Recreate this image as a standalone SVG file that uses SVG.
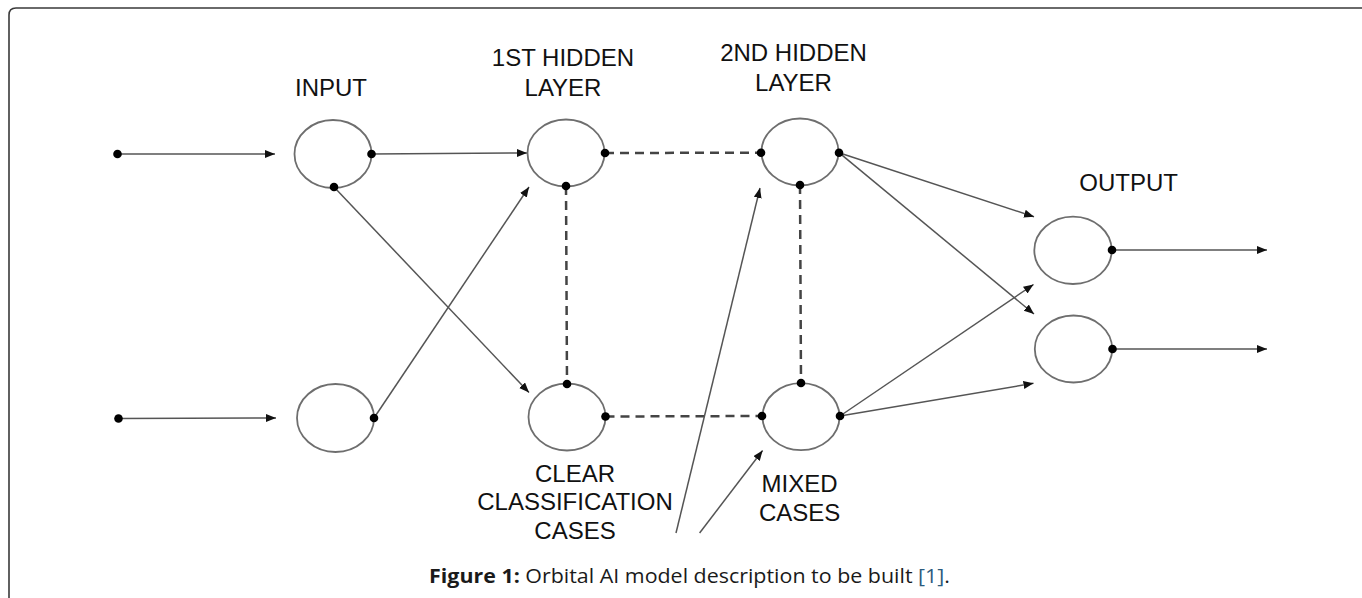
<svg xmlns="http://www.w3.org/2000/svg" width="1362" height="598" viewBox="0 0 1362 598">
<style>
.node ellipse{fill:none;stroke:#6e6e6e;stroke-width:1.8}
.dot{fill:#000}
.lbl{font-family:"Liberation Sans",Arial,sans-serif;font-size:24px;fill:#111;text-anchor:middle}
.solid{stroke:#555;stroke-width:1.5;fill:none}
.dash{stroke:#444;stroke-width:2.5;stroke-dasharray:9 6;fill:none}
.cap{font-family:"Open Sans","Liberation Sans",sans-serif;font-size:20px;fill:#1a1a1a}
</style>
<defs>
<marker id="ah" markerUnits="userSpaceOnUse" markerWidth="11" markerHeight="9" refX="10" refY="4" orient="auto">
<path d="M0,0 L10,4 L0,8 z" fill="#111"/>
</marker>
</defs>
<rect width="1362" height="598" fill="#fff"/>
<path d="M9,598 L9,15 Q9,8 16,8 L1362,8" fill="none" stroke="#3a3a3a" stroke-width="1.6"/>

<g id="connectors">
<line class="solid" x1="117.5" y1="154" x2="275" y2="154" marker-end="url(#ah)"/>
<line class="solid" x1="118.5" y1="418.5" x2="276" y2="418" marker-end="url(#ah)"/>
<line class="solid" x1="371.5" y1="154" x2="527" y2="153" marker-end="url(#ah)"/>
<line class="solid" x1="334" y1="187" x2="529" y2="392.5" marker-end="url(#ah)"/>
<line class="solid" x1="374" y1="418" x2="529" y2="187" marker-end="url(#ah)"/>
<line class="dash" x1="605" y1="153" x2="761" y2="152.7"/>
<line class="dash" x1="566" y1="186" x2="567" y2="384"/>
<line class="dash" x1="605.5" y1="416.5" x2="762" y2="416"/>
<line class="dash" x1="800" y1="185" x2="801" y2="383"/>
<line class="solid" x1="839" y1="152.7" x2="1034" y2="216.7" marker-end="url(#ah)"/>
<line class="solid" x1="839" y1="152.7" x2="1034" y2="314" marker-end="url(#ah)"/>
<line class="solid" x1="840" y1="416" x2="1033.5" y2="284.5" marker-end="url(#ah)"/>
<line class="solid" x1="840" y1="416" x2="1033.5" y2="383.3" marker-end="url(#ah)"/>
<line class="solid" x1="1112" y1="250" x2="1267" y2="250" marker-end="url(#ah)"/>
<line class="solid" x1="1112.5" y1="349" x2="1267" y2="349" marker-end="url(#ah)"/>
<line class="solid" x1="676" y1="533" x2="760" y2="188" marker-end="url(#ah)"/>
<line class="solid" x1="699.6" y1="533" x2="762.6" y2="450.5" marker-end="url(#ah)"/>
</g>

<g id="node-in1" class="node">
<ellipse cx="333" cy="154" rx="38.5" ry="34"/>
<circle class="dot" cx="371.5" cy="154" r="4.3"/>
<circle class="dot" cx="334" cy="187" r="4.3"/>
</g>
<g id="node-in2" class="node">
<ellipse cx="335.5" cy="418" rx="38.5" ry="34"/>
<circle class="dot" cx="374" cy="418" r="4.3"/>
</g>
<g id="node-h1a" class="node">
<ellipse cx="566" cy="153" rx="38.5" ry="33.5"/>
<circle class="dot" cx="605" cy="153" r="4.3"/>
<circle class="dot" cx="566" cy="186" r="4.3"/>
</g>
<g id="node-h1b" class="node">
<ellipse cx="567" cy="417" rx="38.5" ry="33.5"/>
<circle class="dot" cx="567" cy="384" r="4.3"/>
<circle class="dot" cx="605.5" cy="416.5" r="4.3"/>
</g>
<g id="node-h2a" class="node">
<ellipse cx="800" cy="152" rx="38.5" ry="33.5"/>
<circle class="dot" cx="761" cy="152.7" r="4.3"/>
<circle class="dot" cx="839" cy="152.7" r="4.3"/>
<circle class="dot" cx="800" cy="185" r="4.3"/>
</g>
<g id="node-h2b" class="node">
<ellipse cx="801" cy="416.7" rx="38.5" ry="33.5"/>
<circle class="dot" cx="801" cy="383" r="4.3"/>
<circle class="dot" cx="762" cy="416" r="4.3"/>
<circle class="dot" cx="840" cy="416" r="4.3"/>
</g>
<g id="node-out1" class="node">
<ellipse cx="1073" cy="250.3" rx="38.7" ry="33.7"/>
<circle class="dot" cx="1112" cy="250" r="4.3"/>
</g>
<g id="node-out2" class="node">
<ellipse cx="1073.5" cy="349" rx="38.7" ry="33.5"/>
<circle class="dot" cx="1112.5" cy="349" r="4.3"/>
</g>
<g id="start-dots">
<circle class="dot" cx="117.5" cy="154" r="4.3"/>
<circle class="dot" cx="118.5" cy="418.5" r="4.3"/>
</g>

<g id="labels">
<text class="lbl" x="331" y="96">INPUT</text>
<text class="lbl" x="563" y="66">1ST HIDDEN</text>
<text class="lbl" x="563" y="96">LAYER</text>
<text class="lbl" x="793.5" y="61">2ND HIDDEN</text>
<text class="lbl" x="793.5" y="91">LAYER</text>
<text class="lbl" x="1128.6" y="191">OUTPUT</text>
<text class="lbl" x="575" y="481.5">CLEAR</text>
<text class="lbl" x="575" y="510">CLASSIFICATION</text>
<text class="lbl" x="575" y="539">CASES</text>
<text class="lbl" x="799.6" y="491.5">MIXED</text>
<text class="lbl" x="799.6" y="520.5">CASES</text>
</g>

<text class="cap" x="429" y="583" textLength="521" lengthAdjust="spacingAndGlyphs"><tspan font-weight="bold">Figure 1:</tspan> Orbital AI model description to be built <tspan fill="#2b5b7e">[1]</tspan>.</text>
</svg>
